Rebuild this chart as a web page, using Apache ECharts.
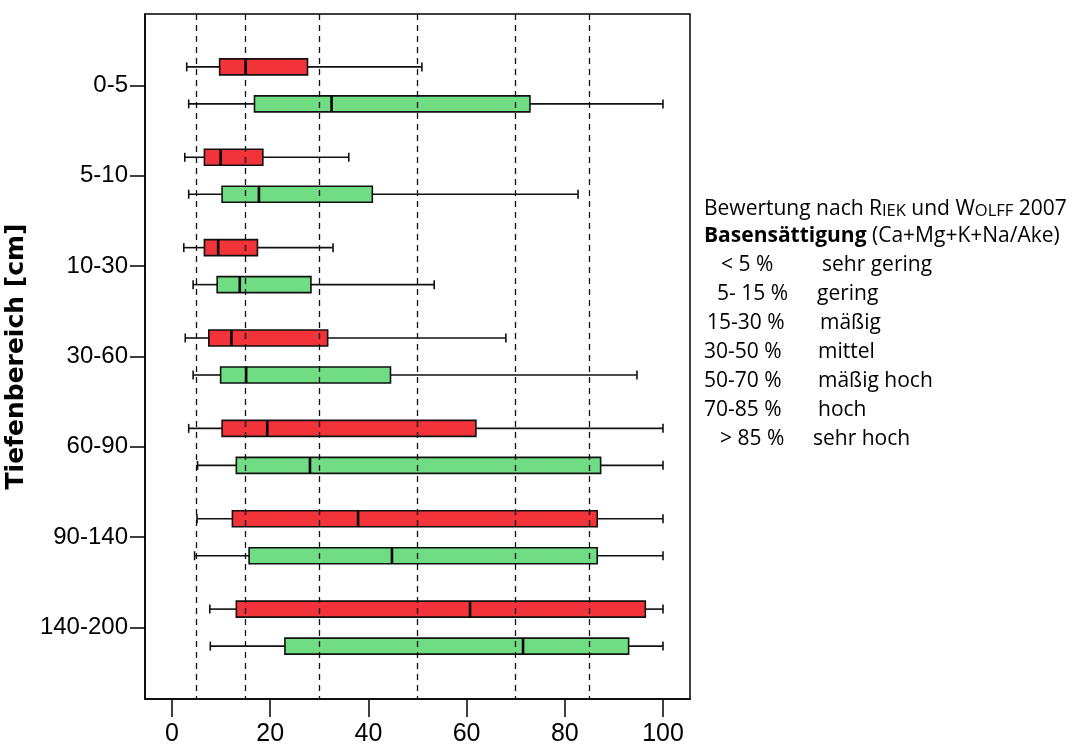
<!DOCTYPE html>
<html>
<head>
<meta charset="utf-8">
<script src="https://cdn.jsdelivr.net/npm/echarts@6/dist/echarts.min.js"></script>
<style>
html,body{margin:0;padding:0;background:#fff;}
#c{width:1075px;height:747px;}
</style>
</head>
<body>
<div id="c"></div>
<script>
// ---- data ----
const categories = ['0-5','5-10','10-30','30-60','60-90','90-140','140-200'];
// [whisker low, Q1, median, Q3, whisker high]
const redStats = [
  [3.0, 9.7, 15.0, 27.6, 50.9],
  [2.6, 6.6, 9.9, 18.5, 36.0],
  [2.4, 6.6, 9.4, 17.4, 32.8],
  [2.7, 7.5, 12.1, 31.7, 68.0],
  [3.4, 10.2, 19.4, 61.9, 100],
  [5.1, 12.3, 37.9, 86.6, 100],
  [7.7, 13.1, 60.7, 96.4, 100]
];
const greenStats = [
  [3.4, 16.8, 32.5, 72.9, 100],
  [3.4, 10.2, 17.7, 40.8, 82.7],
  [4.3, 9.2, 13.8, 28.3, 53.4],
  [4.3, 9.9, 15.1, 44.5, 94.7],
  [5.2, 13.1, 28.1, 87.3, 100],
  [4.6, 15.7, 44.8, 86.6, 100],
  [7.8, 23.0, 71.5, 93.0, 100]
];
const refLines = [5, 15, 30, 50, 70, 85];
const xTicks = [0, 20, 40, 60, 80, 100];
const yTicks = [0, 1, 2, 3, 4, 5, 6];
const legendRanges = ['< 5 %', '5- 15 %', '15-30 %', '30-50 %', '50-70 %', '70-85 %', '> 85 %'];
const legendClasses = ['sehr gering', 'gering', 'mäßig', 'mittel', 'mäßig hoch', 'hoch', 'sehr hoch'];

// ---- layout / style ----
const rangeX = [721, 717, 707, 704, 704, 704, 720];
const classX = [822, 817, 820, 818, 818, 818, 813];
const legendFont = '"Open Sans", "Noto Sans", sans-serif';
const axisFont = '"Liberation Sans", Arial, sans-serif';

function toItems(stats) {
  return stats.map((s, i) => [i].concat(s));
}

function makeRender(offsetPx, color) {
  return function (params, api) {
    const cat = api.value(0);
    const yc = api.coord([0, cat])[1] + offsetPx;
    const px = v => api.coord([v, cat])[0];
    const lo = px(api.value(1)), q1 = px(api.value(2)), md = px(api.value(3)),
          q3 = px(api.value(4)), hi = px(api.value(5));
    const hb = 8, hc = 4.5;
    const ls = {stroke: '#111', lineWidth: 1.6};
    return {
      type: 'group',
      children: [
        {type: 'line', shape: {x1: lo, y1: yc, x2: q1, y2: yc}, style: ls},
        {type: 'line', shape: {x1: q3, y1: yc, x2: hi, y2: yc}, style: ls},
        {type: 'line', shape: {x1: lo, y1: yc - hc, x2: lo, y2: yc + hc}, style: ls},
        {type: 'line', shape: {x1: hi, y1: yc - hc, x2: hi, y2: yc + hc}, style: ls},
        {type: 'rect', shape: {x: q1, y: yc - hb, width: q3 - q1, height: 2 * hb},
          style: {fill: color, stroke: '#111', lineWidth: 1.6}},
        {type: 'line', shape: {x1: md, y1: yc - hb, x2: md, y2: yc + hb},
          style: {stroke: '#000', lineWidth: 2.6}}
      ]
    };
  };
}

const LF = 21;
const SC = 16.5;
const legendGraphics = [];
legendGraphics.push({
  type: 'text', x: 704, y: 207,
  style: {
    text: '{n|Bewertung nach R}{sc|IEK}{n| und W}{sc|OLFF}{n| 2007}',
    verticalAlign: 'middle',
    rich: {
      n: {fontFamily: legendFont, fontSize: LF, lineHeight: 26, verticalAlign: 'bottom', fill: '#000'},
      sc: {fontFamily: legendFont, fontSize: SC, lineHeight: 26, verticalAlign: 'bottom', fill: '#000'}
    }
  }
});
legendGraphics.push({
  type: 'text', x: 704, y: 236,
  style: {
    text: '{b|Basensättigung}{n| (Ca+Mg+K+Na/Ake)}',
    verticalAlign: 'middle',
    rich: {
      b: {fontFamily: legendFont, fontSize: LF, fontWeight: 'bold', fill: '#000'},
      n: {fontFamily: legendFont, fontSize: LF, fill: '#000'}
    }
  }
});
legendRanges.forEach((r, i) => {
  const y = 265 + i * 29;
  legendGraphics.push({type: 'text', x: rangeX[i], y: y,
    style: {text: r, font: LF + 'px ' + legendFont, fill: '#000', verticalAlign: 'middle'}});
  legendGraphics.push({type: 'text', x: classX[i], y: y,
    style: {text: legendClasses[i], font: LF + 'px ' + legendFont, fill: '#000', verticalAlign: 'middle'}});
});

const chart = echarts.init(document.getElementById('c'), null, {renderer: 'canvas'});
chart.setOption({
  animation: false,
  backgroundColor: '#fff',
  grid: {left: 145, right: 385, top: 14, bottom: 48, containLabel: false, outerBoundsMode: 'none',
    show: true, borderColor: '#000', borderWidth: 1.5, backgroundColor: 'transparent'},
  xAxis: {
    type: 'value', min: -5.5, max: 105.5,
    axisLine: {show: true, onZero: false, lineStyle: {color: '#000', width: 1.5}},
    axisTick: {show: true, customValues: xTicks, length: 18, lineStyle: {color: '#000', width: 1.5}},
    axisLabel: {show: true, customValues: xTicks, margin: 23, color: '#000', fontFamily: axisFont, fontSize: 25},
    splitLine: {show: false}
  },
  yAxis: {
    type: 'value', inverse: true, min: -0.79, max: 6.79,
    name: 'Tiefenbereich [cm]', nameLocation: 'middle', nameGap: 106, nameRotate: 90,
    nameTextStyle: {fontFamily: '"DejaVu Sans", sans-serif', fontWeight: 'bold', fontSize: 25, color: '#000'},
    axisLine: {show: true, onZero: false, lineStyle: {color: '#000', width: 1.5}},
    axisTick: {show: true, customValues: yTicks, length: 15, lineStyle: {color: '#000', width: 1.5}},
    axisLabel: {show: true, customValues: yTicks, margin: 17, color: '#000', fontFamily: axisFont, fontSize: 24,
      formatter: v => categories[Math.round(v)]},
    splitLine: {show: false}
  },
  graphic: legendGraphics,
  series: [
    {
      name: 'rot', type: 'custom', z: 2,
      renderItem: makeRender(-18.5, '#F2333A'),
      encode: {x: [1, 2, 3, 4, 5], y: 0},
      data: toItems(redStats)
    },
    {
      name: 'grün', type: 'custom', z: 2,
      renderItem: makeRender(18.5, '#70DD84'),
      encode: {x: [1, 2, 3, 4, 5], y: 0},
      data: toItems(greenStats)
    },
    {
      name: 'ref', type: 'line', z: 5, data: [],
      markLine: {
        silent: true, symbol: 'none', animation: false, z: 5,
        label: {show: false},
        lineStyle: {color: '#111', type: [6, 5], width: 1.3},
        data: refLines.map(v => ({xAxis: v}))
      }
    }
  ]
});
</script>
</body>
</html>
